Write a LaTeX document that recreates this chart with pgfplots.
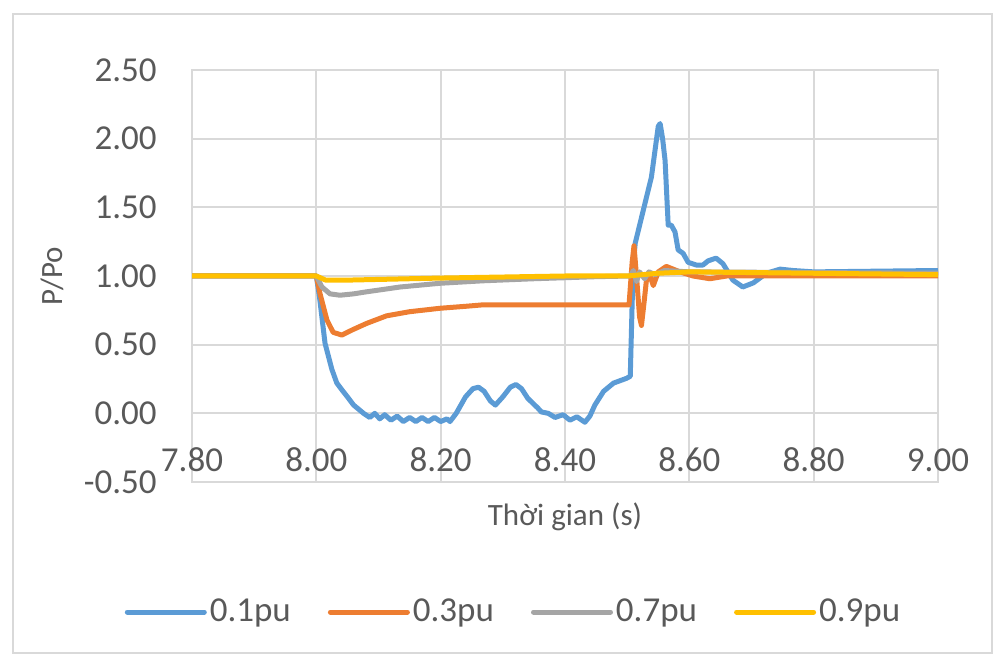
\documentclass[border=0pt]{standalone}
\usepackage{pgfplots}
\pgfplotsset{compat=1.18}
\usepackage{fontspec}
\setmainfont{Carlito}
\definecolor{cA}{HTML}{5B9BD5}
\definecolor{cB}{HTML}{ED7D31}
\definecolor{cC}{HTML}{A5A5A5}
\definecolor{cD}{HTML}{FFC000}
\definecolor{gridc}{HTML}{D9D9D9}
\definecolor{txt}{HTML}{595959}
\begin{document}
\begin{tikzpicture}
\useasboundingbox (0,0) rectangle (500pt,-328pt);
\draw[gridc, line width=0.75pt] (6.5pt,-7pt) rectangle (496pt,-326.5pt);
\begin{axis}[
  at={(96pt,-241pt)}, anchor=south west,
  width=373pt, height=206pt, scale only axis,
  xmin=7.8, xmax=9.0, ymin=-0.5, ymax=2.5,
  xtick={7.8,8.0,8.2,8.4,8.6,8.8,9.0},
  ytick={-0.5,0,0.5,1,1.5,2,2.5},
  grid=major, major grid style={gridc, line width=1pt},
  axis line style={gridc, line width=1pt},
  major tick length=0pt,
  tick label style={font=\fontsize{17.5}{20}\selectfont, text=txt},
  /pgf/number format/fixed,
  /pgf/number format/fixed zerofill,
  /pgf/number format/precision=2,
  /pgf/number format/assume math mode=true,
  xticklabel style={anchor=center, yshift=11pt, inner sep=0pt},
  yticklabel style={anchor=east, xshift=-17.5pt, inner sep=0pt},
  xlabel={Thời gian (s)},
  xlabel style={at={(axis description cs:0.5,0)}, anchor=center, yshift=-17.5pt, font=\fontsize{15.5}{18}\selectfont, text=txt},
  ylabel={P/Po},
  ylabel style={at={(axis description cs:-0.1877,0.5)}, anchor=center, font=\fontsize{15.5}{18}\selectfont, text=txt},
  legend columns=4,
  legend style={at={(axis description cs:0.5,0)}, anchor=center, xshift=-25.5pt, yshift=-65pt, draw=none, fill=none, font=\fontsize{17.5}{20}\selectfont, text=txt, nodes={inner sep=1.5pt}, /tikz/every even column/.append style={column sep=17pt}},
  legend image code/.code={\draw[#1, line width=2.5pt, line cap=round] (1.25pt,0pt) -- (39.75pt,0pt);},
  every axis plot/.append style={line width=2.5pt, line join=round, no markers},
]
\addplot[cA] coordinates {
(7.80,1.00)(8.00,1.00)(8.005,0.85)(8.014,0.51)(8.025,0.32)(8.033,0.22)(8.043,0.16)(8.050,0.12)
(8.060,0.06)(8.068,0.03)(8.076,0.00)(8.086,-0.03)(8.094,0.00)(8.102,-0.04)(8.110,-0.01)(8.120,-0.05)
(8.130,-0.02)(8.140,-0.06)(8.150,-0.03)(8.160,-0.06)(8.170,-0.03)(8.180,-0.06)(8.190,-0.03)(8.200,-0.06)
(8.210,-0.04)(8.215,-0.06)(8.225,0.00)(8.240,0.12)(8.252,0.18)(8.261,0.19)(8.270,0.16)(8.280,0.09)
(8.288,0.06)(8.300,0.12)(8.312,0.19)(8.321,0.21)(8.330,0.18)(8.340,0.11)(8.349,0.07)(8.356,0.04)
(8.362,0.01)(8.373,0.00)(8.384,-0.03)(8.397,-0.01)(8.408,-0.05)(8.419,-0.025)(8.432,-0.065)(8.440,-0.02)
(8.448,0.06)(8.462,0.16)(8.478,0.22)(8.499,0.255)(8.505,0.27)(8.508,0.80)(8.510,1.10)(8.513,1.24)
(8.526,1.48)(8.539,1.72)(8.550,2.09)(8.553,2.11)(8.557,2.00)(8.561,1.84)(8.566,1.37)(8.571,1.37)
(8.577,1.32)(8.582,1.19)(8.590,1.165)(8.598,1.10)(8.611,1.08)(8.622,1.08)(8.630,1.11)(8.643,1.13)
(8.654,1.09)(8.670,0.97)(8.686,0.92)(8.703,0.95)(8.724,1.02)(8.746,1.05)(8.767,1.04)(8.80,1.03)(9.00,1.04)
};
\addlegendentry{0.1pu}
\addplot[cB] coordinates {
(7.80,1.00)(8.00,1.00)(8.006,0.87)(8.017,0.68)(8.027,0.59)(8.041,0.57)(8.059,0.61)(8.081,0.655)
(8.113,0.71)(8.150,0.74)(8.199,0.765)(8.242,0.78)(8.268,0.79)(8.503,0.79)(8.508,1.10)(8.511,1.22)
(8.515,1.00)(8.520,0.70)(8.523,0.64)(8.527,0.80)(8.531,0.97)(8.537,1.00)(8.542,0.93)(8.550,1.03)
(8.563,1.07)(8.585,1.03)(8.606,1.00)(8.633,0.98)(8.660,1.00)(9.00,1.00)
};
\addlegendentry{0.3pu}
\addplot[cC] coordinates {
(7.80,1.00)(8.00,1.00)(8.009,0.92)(8.022,0.87)(8.038,0.86)(8.060,0.87)(8.081,0.885)(8.135,0.92)
(8.199,0.947)(8.268,0.965)(8.350,0.98)(8.450,0.995)(8.505,1.00)(8.510,1.04)(8.515,0.96)(8.520,1.03)
(8.528,0.98)(8.535,1.03)(8.545,1.01)(8.560,1.04)(8.600,1.03)(9.00,1.02)
};
\addlegendentry{0.7pu}
\addplot[cD] coordinates {
(7.80,1.00)(8.00,1.00)(8.015,0.97)(8.05,0.97)(8.20,0.985)(8.40,1.00)(8.50,1.00)(8.55,1.02)
(8.60,1.03)(8.80,1.02)(9.00,1.01)
};
\addlegendentry{0.9pu}
\end{axis}
\end{tikzpicture}
\end{document}
